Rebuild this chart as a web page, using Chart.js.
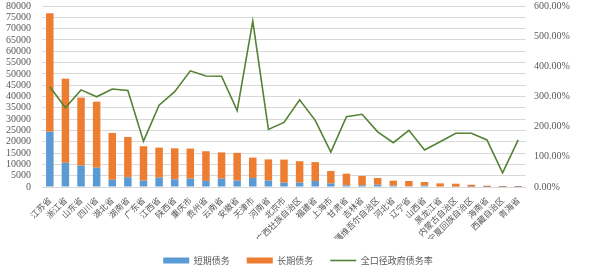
<!DOCTYPE html>
<html>
<head>
<meta charset="utf-8">
<script src="https://cdn.jsdelivr.net/npm/chart.js@4/dist/chart.umd.min.js"></script>
<style>
  html,body{margin:0;padding:0;background:#fff}
  canvas{display:block}
</style>
</head>
<body>
<canvas id="c" width="596" height="275"></canvas>
<script>
// ====== DATA ======
const provinces = ['江苏省','浙江省','山东省','四川省','湖北省','湖南省','广东省','江西省','陕西省','重庆市','贵州省','云南省','安徽省','天津市','河南省','北京市','广西壮族自治区','福建省','上海市','甘肃省','吉林省','新疆维吾尔自治区','河北省','辽宁省','山西省','黑龙江省','内蒙古自治区','宁夏回族自治区','海南省','西藏自治区','青海省'];
const totalDebt = [76800,47900,39500,37700,23900,22100,18000,17400,17100,17000,15800,15300,15100,13000,12200,12100,11400,11000,7100,5900,4900,4000,2800,2650,2200,1600,1450,1000,600,450,400];
const shortDebt = [24400,10700,9400,8500,3200,4300,2800,4100,3400,3700,2700,3700,2800,4000,2800,1900,1900,2650,1600,750,750,1000,600,300,600,200,150,100,60,40,30];
const longDebt = totalDebt.map((t,i)=>t-shortDebt[i]);
const debtRate = [332,263,322,299,325,320,152,271,316,385,368,367,253,550,191,214,289,221,116,233,241,183,147,188,123,150,178,178,156,47,156];
const leftTicks = {min:0,max:80000,step:5000};
const rightTicks = {min:0,max:600,step:100};

// ====== CHART ======
const serif = "'Liberation Serif','DejaVu Serif',serif";
const cjk = "'Noto Sans CJK SC','Noto Sans',sans-serif";
function fixV(w){ return s=>{ s.width=w; s.paddingTop=0; s.paddingBottom=0; }; }
new Chart(document.getElementById('c'),{
  data:{
    labels:provinces,
    datasets:[
      {type:'bar',label:'短期债务',data:shortDebt,backgroundColor:'#5b9bd5',yAxisID:'y',stack:'s',barPercentage:0.48,categoryPercentage:1,order:2},
      {type:'bar',label:'长期债务',data:longDebt,backgroundColor:'#ed7d31',yAxisID:'y',stack:'s',barPercentage:0.48,categoryPercentage:1,order:2},
      {type:'line',label:'全口径政府债务率',data:debtRate,borderColor:'#548235',backgroundColor:'#548235',borderWidth:1.6,pointRadius:0,tension:0,yAxisID:'y1',order:1}
    ]
  },
  options:{
    responsive:false,animation:false,devicePixelRatio:1,
    layout:{padding:{top:6,left:0,right:0,bottom:0}},
    plugins:{
      tooltip:{enabled:false},
      legend:{position:'bottom',labels:{
        usePointStyle:true,pointStyleWidth:26,boxWidth:26,boxHeight:6,padding:17,color:'#595959',
        font:{family:cjk,size:9},
        sort:(a,b)=>a.datasetIndex-b.datasetIndex,
        generateLabels(chart){
          const items = Chart.defaults.plugins.legend.labels.generateLabels(chart);
          items.forEach(it=>{
            if(it.datasetIndex===2){ it.pointStyle='line'; it.lineWidth=1.6; it.strokeStyle='#548235'; }
            else { it.pointStyle='rect'; it.lineWidth=0; }
          });
          return items;
        }
      }}
    },
    scales:{
      x:{stacked:true,grid:{display:false,drawTicks:false},border:{display:false},
        ticks:{autoSkip:false,maxRotation:45,minRotation:45,padding:8,color:'#595959',font:{family:cjk,size:8.5}},
        afterFit(s){ s.height=52; }},
      y:{stacked:true,position:'left',min:leftTicks.min,max:leftTicks.max,
        grid:{color:'#d9d9d9',drawTicks:false},border:{display:false},
        ticks:{stepSize:leftTicks.step,autoSkip:false,padding:11,color:'#595959',font:{family:serif,size:10},callback:v=>String(v)},
        afterFit:fixV(42)},
      y1:{position:'right',min:rightTicks.min,max:rightTicks.max,
        grid:{display:false,drawTicks:false},border:{display:false},
        ticks:{stepSize:rightTicks.step,autoSkip:false,padding:8,color:'#595959',font:{family:serif,size:10},callback:v=>v.toFixed(2)+'%'},
        afterFit:fixV(70)}
    }
  }
});
</script>
</body>
</html>
